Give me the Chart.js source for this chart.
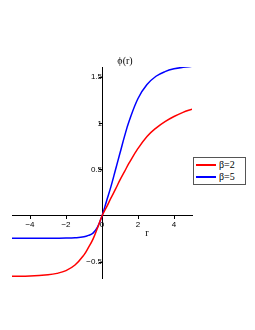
<!DOCTYPE html>
<html>
<head>
<meta charset="utf-8">
<script src="https://cdn.jsdelivr.net/npm/chart.js@4/dist/chart.umd.min.js"></script>
<style>
  html, body { margin: 0; padding: 0; background: #fff; }
  #wrap { position: relative; width: 255px; height: 330px; }
  #legend {
    position: absolute; left: 193px; top: 157px; width: 53px; height: 28px;
    border: 1px solid #555; background: #fff;
    font-family: "Liberation Serif", serif; font-size: 10px; line-height: 12px;
    box-sizing: border-box; padding: 1px 0 0 2px;
  }
  .row { display: flex; align-items: center; height: 12px; }
  .sw { display: inline-block; width: 20px; height: 2px; margin-right: 3px; }
</style>
</head>
<body>
<div id="wrap">
  <canvas id="c" width="255" height="330"></canvas>
  <div id="legend"></div>
</div>
<script>
// ---- data ----
const rVals     = [-5, -4, -3, -2.5, -2, -1.5, -1, -0.75, -0.5, -0.25, 0, 0.25, 0.5, 0.75, 1, 1.25, 1.5, 2, 2.5, 3, 3.5, 4, 4.5, 5];
const phiBeta2  = [-0.65, -0.648, -0.635, -0.62, -0.59, -0.53, -0.42, -0.34, -0.25, -0.13, 0, 0.095, 0.195, 0.29, 0.39, 0.48, 0.57, 0.73, 0.86, 0.95, 1.02, 1.075, 1.12, 1.155];
const phiBeta5  = [-0.24, -0.24, -0.24, -0.24, -0.239, -0.235, -0.225, -0.21, -0.185, -0.12, 0, 0.16, 0.32, 0.5, 0.68, 0.86, 1.02, 1.27, 1.42, 1.51, 1.56, 1.59, 1.607, 1.617];
const seriesNames = ["β=2", "β=5"];
const seriesColors = ["#ff0000", "#0000ff"];
const xTicks = [-4, -2, 0, 2, 4];
const yTicks = [-0.5, 0.5, 1, 1.5];
const xTitle = "r";
const yTitle = "ϕ(r)";

const toPts = ys => rVals.map((x, i) => ({ x: x, y: ys[i] }));

const axisTitles = {
  id: 'axisTitles',
  afterDraw(chart) {
    const { ctx, scales } = chart;
    ctx.save();
    ctx.fillStyle = '#000';
    ctx.font = '10px "Liberation Serif", serif';
    ctx.textAlign = 'center';
    ctx.textBaseline = 'middle';
    ctx.fillText(xTitle, scales.x.getPixelForValue(2.5), scales.y.getPixelForValue(0) + 17);
    ctx.fillText(yTitle, scales.x.getPixelForValue(0) + 23, scales.y.top - 6);
    ctx.restore();
  }
};

const tickFont = { family: '"Liberation Sans", sans-serif', size: 8 };

new Chart(document.getElementById('c'), {
  type: 'scatter',
  data: {
    datasets: [
      { label: seriesNames[0], data: toPts(phiBeta2), borderColor: seriesColors[0], backgroundColor: seriesColors[0],
        showLine: true, pointRadius: 0, borderWidth: 1.5, tension: 0.4 },
      { label: seriesNames[1], data: toPts(phiBeta5), borderColor: seriesColors[1], backgroundColor: seriesColors[1],
        showLine: true, pointRadius: 0, borderWidth: 1.5, tension: 0.4 }
    ]
  },
  options: {
    responsive: false,
    animation: false,
    devicePixelRatio: 1,
    layout: { padding: { left: 12, right: 63, top: 67, bottom: 52 } },
    plugins: { legend: { display: false }, tooltip: { enabled: false } },
    scales: {
      x: {
        type: 'linear', min: -5, max: 5, position: { y: 0 },
        afterBuildTicks: s => { s.ticks = xTicks.map(v => ({ value: v })); },
        grid: { display: true, drawOnChartArea: false, drawTicks: true, tickLength: 3, color: '#000' },
        border: { display: true, color: '#000', width: 1 },
        ticks: { color: '#000', font: tickFont, padding: 1, maxRotation: 0, callback: v => String(v).replace('-', '−') }
      },
      y: {
        type: 'linear', min: -0.67, max: 1.61, position: { x: 0 },
        afterBuildTicks: s => { s.ticks = yTicks.map(v => ({ value: v })); },
        grid: { display: true, drawOnChartArea: false, drawTicks: true, tickLength: 3, color: '#000' },
        border: { display: true, color: '#000', width: 1 },
        ticks: { color: '#000', font: tickFont, padding: 1, callback: v => String(v).replace('-', '−') }
      }
    }
  },
  plugins: [axisTitles]
});

const lg = document.getElementById('legend');
seriesNames.forEach((n, i) => {
  const row = document.createElement('div');
  row.className = 'row';
  const sw = document.createElement('span');
  sw.className = 'sw';
  sw.style.background = seriesColors[i];
  const t = document.createElement('span');
  t.textContent = n;
  row.appendChild(sw); row.appendChild(t);
  lg.appendChild(row);
});
</script>
</body>
</html>
